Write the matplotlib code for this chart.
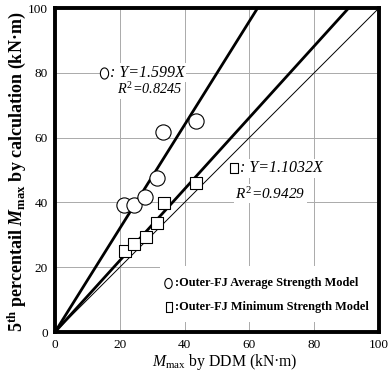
import matplotlib
matplotlib.use("Agg")
import matplotlib.pyplot as plt
from matplotlib.patches import Rectangle
from matplotlib.path import Path
import numpy as np

plt.rcParams["font.family"] = ["Liberation Serif", "DejaVu Serif"]
plt.rcParams["mathtext.fontset"] = "custom"
plt.rcParams["mathtext.rm"] = "Liberation Serif"
plt.rcParams["mathtext.it"] = "Liberation Serif:italic"
plt.rcParams["mathtext.bf"] = "Liberation Serif:bold"
plt.rcParams["mathtext.bfit"] = "Liberation Serif:bold:italic"

# data
avg_x = [21.3, 24.5, 27.8, 31.4, 33.4, 43.4]
avg_y = [39.2, 39.2, 41.6, 47.4, 61.6, 65.2]
min_x = [21.6, 24.5, 28.0, 31.5, 33.7, 43.6]
min_y = [25.1, 27.1, 29.2, 33.6, 39.9, 46.1]
slope_avg = 1.599
slope_min = 1.1032
r2_avg = 0.8245
r2_min = 0.9429
ticks = [0, 20, 40, 60, 80, 100]
legend_labels = ["Outer-FJ Average Strength Model", "Outer-FJ Minimum Strength Model"]

# tall symbols used in the notes (like full-width ○ / □ glyphs)
t = np.linspace(0, 2 * np.pi, 64)
oval = Path(np.column_stack([0.37 * np.cos(t), 0.5 * np.sin(t)]))
tall_box = Path([(-0.34, -0.5), (0.34, -0.5), (0.34, 0.5), (-0.34, 0.5), (-0.34, -0.5)],
                [Path.MOVETO, Path.LINETO, Path.LINETO, Path.LINETO, Path.CLOSEPOLY])

fig = plt.figure(figsize=(3.88, 3.71), dpi=100)
ax = fig.add_axes([0.1418, 0.1051, 0.8350, 0.8733])

xs = np.array([0, 100])
ax.plot(xs, slope_avg * xs, color="black", lw=2.0, zorder=3)
ax.plot(xs, slope_min * xs, color="black", lw=2.0, zorder=3)
ax.plot(xs, xs, color="black", lw=0.7, zorder=3)

ax.scatter(avg_x, avg_y, s=120, marker="o", facecolor="white",
           edgecolor="black", linewidth=0.8, zorder=4)
ax.scatter(min_x, min_y, s=74, marker="s", facecolor="white",
           edgecolor="black", linewidth=0.8, zorder=4)

box = dict(facecolor="white", edgecolor="none", pad=1.0)
sym = dict(ls="none", mfc="none", mec="black", mew=0.8, zorder=6)

# regression notes
ax.text(14.2, 80.0, "  ", fontsize=11.5, va="center", bbox=box, zorder=5)
ax.plot([15.1], [80.0], marker=oval, ms=8.0, **sym)
ax.text(17.0, 80.0, ": Y=%.3fX" % slope_avg, fontsize=11.5, style="italic",
        ha="left", va="center", bbox=box, zorder=5)
ax.text(19.1, 74.9, "$R^2$=%.4f" % r2_avg, fontsize=10.3, style="italic",
        ha="left", va="center", bbox=box, zorder=5)
ax.text(54.3, 50.5, "  ", fontsize=11.5, va="center", bbox=box, zorder=5)
ax.plot([55.2], [50.5], marker=tall_box, ms=7.7, **sym)
ax.text(57.1, 50.5, ": Y=%.4fX" % slope_min, fontsize=11.5, style="italic",
        ha="left", va="center", bbox=box, zorder=5)
ax.text(55.6, 42.7, "$R^2$=%.4f" % r2_min, fontsize=11.0, style="italic",
        ha="left", va="center", bbox=box, zorder=5)

# legend block
ax.add_patch(Rectangle((32.5, 3.0), 67.5, 17.5, facecolor="white",
                       edgecolor="none", zorder=2))
ax.plot([35.0], [15.2], marker=oval, ms=7.2, **sym)
ax.text(36.9, 15.2, ":" + legend_labels[0], fontsize=8.85, fontweight="bold",
        ha="left", va="center", zorder=5)
ax.plot([35.2], [7.8], marker=tall_box, ms=7.2, **sym)
ax.text(36.9, 7.8, ":" + legend_labels[1], fontsize=8.85, fontweight="bold",
        ha="left", va="center", zorder=5)

ax.set_xlim(0, 100)
ax.set_ylim(0, 100)
ax.set_xticks(ticks)
ax.set_yticks(ticks)
ax.tick_params(length=0, labelsize=9.5, pad=5)
ax.grid(True, color="#aaaaaa", lw=0.7)
ax.set_axisbelow(True)
for sp in ax.spines.values():
    sp.set_linewidth(2.8)
    sp.set_zorder(7)

ax.set_xlabel(r"$M_{\mathrm{max}}$ by DDM (kN·m)", fontsize=11.3, va="center")
ax.xaxis.set_label_coords(0.525, -0.093)
ax.set_ylabel(r"5$^{\mathbf{th}}$ percentail $\mathbfit{M}_{\mathbf{max}}$ by calculation (kN·m)",
              fontsize=13, fontweight="bold")
ax.yaxis.set_label_coords(-0.083, 0.495)

fig.savefig("out.png", dpi=100)
